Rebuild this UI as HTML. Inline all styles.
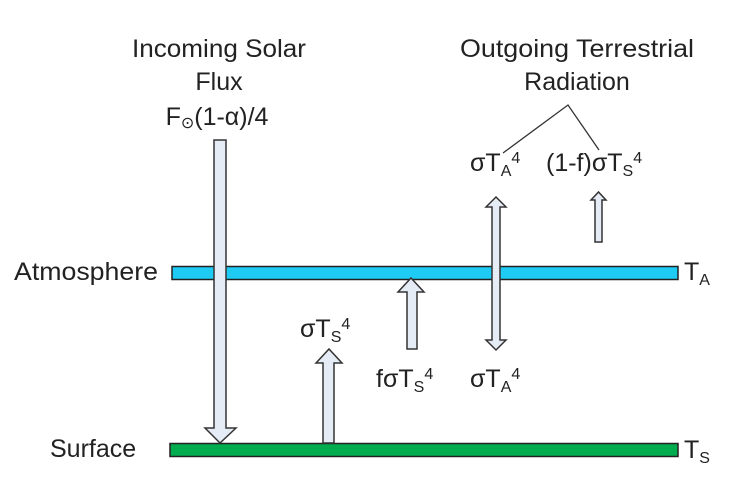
<!DOCTYPE html>
<html><head><meta charset="utf-8"><style>
html,body{margin:0;padding:0;background:#fff;}
svg{display:block;}
text{font-family:"Liberation Sans","DejaVu Sans",sans-serif;font-size:25px;fill:#222;}
.s{font-size:16px;}
</style></head><body>
<svg width="750" height="500" viewBox="0 0 750 500" xmlns="http://www.w3.org/2000/svg">
<rect x="172" y="266.5" width="506" height="13" fill="#1ecbf5" stroke="#222" stroke-width="1.5"/>
<rect x="170" y="443.5" width="508" height="13" fill="#00ad4e" stroke="#222" stroke-width="1.5"/>
<g fill="#e6ecf6" stroke="#333" stroke-width="1.5" stroke-linejoin="miter">
<polygon points="214,140 226,140 226,428 236,428 220,443 205,428 214,428"/>
<polygon points="323,443 334,443 334,363 342,363 329,349 316,363 323,363"/>
<polygon points="407,349 417,349 417,292 424,292 411,278 398,292 407,292"/>
<polygon points="496,197 506,207 500,207 500,340 506,340 496,350 486,340 492,340 492,207 486,207"/>
<polygon points="595,242 602,242 602,200 606,200 598.5,192 591,200 595,200"/>
</g>
<polyline points="503,153 568,105 599,150" fill="none" stroke="#333" stroke-width="1.3"/>
<text x="219" y="57" text-anchor="middle" textLength="174" lengthAdjust="spacingAndGlyphs">Incoming Solar</text>
<text x="219" y="90" text-anchor="middle">Flux</text>
<text x="217" y="125" text-anchor="middle">F<tspan class="s" dy="3">⊙</tspan><tspan dy="-3">(1-α)/4</tspan></text>
<text x="577" y="57" text-anchor="middle" textLength="234" lengthAdjust="spacingAndGlyphs">Outgoing Terrestrial</text>
<text x="577" y="90" text-anchor="middle">Radiation</text>
<text x="470" y="171">σT<tspan class="s" dy="5">A</tspan><tspan class="s" dy="-13">4</tspan></text>
<text x="546" y="171">(1-f)σT<tspan class="s" dy="5">S</tspan><tspan class="s" dy="-13">4</tspan></text>
<text x="14" y="280" textLength="144" lengthAdjust="spacingAndGlyphs">Atmosphere</text>
<text x="50" y="457">Surface</text>
<text x="684" y="280">T<tspan class="s" dy="5">A</tspan></text>
<text x="684" y="458">T<tspan class="s" dy="5">S</tspan></text>
<text x="300" y="337">σT<tspan class="s" dy="5">S</tspan><tspan class="s" dy="-13">4</tspan></text>
<text x="376" y="387">fσT<tspan class="s" dy="5">S</tspan><tspan class="s" dy="-13">4</tspan></text>
<text x="470" y="387">σT<tspan class="s" dy="5">A</tspan><tspan class="s" dy="-13">4</tspan></text>
</svg>
</body></html>
